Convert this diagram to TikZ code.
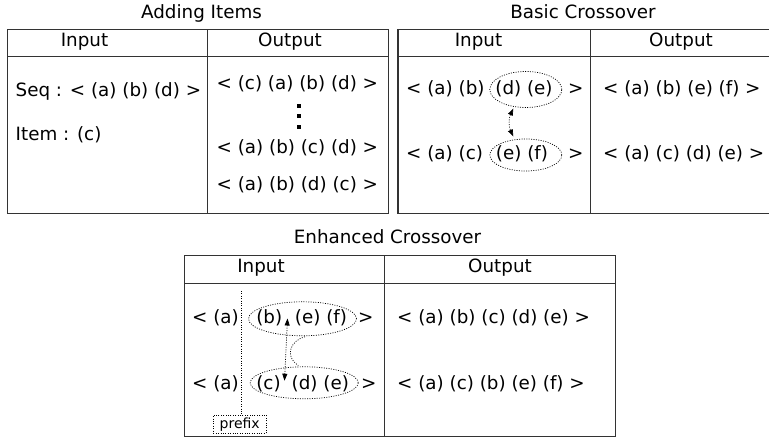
\documentclass[tikz,border=0pt]{standalone}
\usepackage{fontspec}
\setmainfont{DejaVu Sans}
\usetikzlibrary{arrows.meta,shapes.geometric}
\begin{document}
\begin{tikzpicture}[x=1pt,y=-1pt,
  frame/.style={draw=black!80,line width=1.1pt},
  txt/.style={inner sep=0pt,anchor=base west,font=\fontsize{18.3}{21}\selectfont},
  ctxt/.style={inner sep=0pt,anchor=base,font=\fontsize{18.3}{21}\selectfont},
  ell/.style={ellipse,draw,inner sep=0pt,line width=0.7pt,dash pattern=on 1pt off 1.4pt},
  dotline/.style={line width=0.7pt,dash pattern=on 1pt off 1.4pt},
  tip/.style={{Triangle[length=7pt,width=5pt]}-{Triangle[length=7pt,width=5pt]}},
  dotsq/.style={fill=black,inner sep=0pt,minimum size=4pt,rectangle}
]
\useasboundingbox (0,0) rectangle (769,441);

% ---------- Table 1: Adding Items ----------
\node[ctxt] (t1) at (201.5,19) {Adding Items};
\draw[frame] (7.5,29.3) rectangle (388.7,213.3);
\draw[frame] (7.5,56.7) -- (388.7,56.7);
\draw[frame] (207.7,29.3) -- (207.7,213.3);
\node[ctxt] (t1in) at (84.5,46.5) {Input};
\node[ctxt] (t1out) at (290,46.5) {Output};
\node[txt] (seq) at (15.5,96.5) {Seq : < (a) (b) (d) >};
\node[txt] (item) at (15.5,140.8) {Item : (c)};
\node[txt] (o1) at (216.5,90) {< (c) (a) (b) (d) >};
\node[dotsq] (d1) at (299,106) {};
\node[dotsq] (d2) at (299,116.5) {};
\node[dotsq] (d3) at (299,127) {};
\node[txt] (o2) at (216.5,153.5) {< (a) (b) (c) (d) >};
\node[txt] (o3) at (216.5,190) {< (a) (b) (d) (c) >};

% ---------- Table 2: Basic Crossover ----------
\node[ctxt] (t2) at (583,19) {Basic Crossover};
\draw[frame] (769,29.3) -| (398,213.3) -- (769,213.3);
\draw[frame] (398,56.7) -- (769,56.7);
\draw[frame] (590.7,29.3) -- (590.7,213.3);
\node[ctxt] (t2in) at (478.5,46.5) {Input};
\node[ctxt] (t2out) at (681,46.5) {Output};
\node[txt] (b1a) at (406,94.5) {< (a) (b)};
\node[ell,minimum width=72pt,minimum height=36pt] (b1e) at (525.8,89.5) {};
\node[ctxt] (b1b) at (524,94.5) {(d) (e)};
\node[txt] (b1c) at (568,94.5) {>};
\node[txt] (b2a) at (406,159.5) {< (a) (c)};
\node[ell,minimum width=72pt,minimum height=32pt] (b2e) at (525.8,155) {};
\node[ctxt] (b2b) at (522,159.5) {(e) (f)};
\node[txt] (b2c) at (568,159.5) {>};
\coordinate (ba1) at (513.3,108.5);
\coordinate (ba2) at (513.3,136.5);
\draw[dotline,tip] (ba1) to[bend right=25] (ba2);
\node[txt] (bo1) at (603,94.5) {< (a) (b) (e) (f) >};
\node[txt] (bo2) at (603,159.5) {< (a) (c) (d) (e) >};

% ---------- Table 3: Enhanced Crossover ----------
\node[ctxt] (t3) at (387.5,243.3) {Enhanced Crossover};
\draw[frame] (184.7,255.3) rectangle (615.7,436.5);
\draw[frame] (184.7,283.3) -- (615.7,283.3);
\draw[frame] (384.7,255.3) -- (384.7,436.5);
\node[ctxt] (t3in) at (261,272.4) {Input};
\node[ctxt] (t3out) at (500,272.4) {Output};
\node[txt] (e1a) at (192,323.5) {< (a)};
\node[ell,minimum width=108pt,minimum height=34pt] (e1e) at (302.5,318.8) {};
\node[ctxt] (e1b) at (269.3,323.5) {(b)};
\node[ctxt] (e1c) at (321,323.5) {(e) (f)};
\node[txt] (e1d) at (358,323.5) {>};
\node[txt] (e2a) at (192,389) {< (a)};
\node[ell,minimum width=108pt,minimum height=32pt] (e2e) at (304.2,382.8) {};
\node[ctxt] (e2b) at (268.5,389) {(c)};
\node[ctxt] (e2c) at (320.3,389) {(d) (e)};
\node[txt] (e2d) at (361,389) {>};
\node[draw,dotline,inner sep=0pt,minimum width=52.7pt,minimum height=18.3pt,font=\fontsize{14}{16}\selectfont] (pre) at (239.7,424.2) {prefix};
\coordinate (vtop) at (241.7,291);
\draw[dotline] (vtop) -- (vtop |- pre.north);
\coordinate (ea1) at (287.5,318.5);
\coordinate (ea2) at (284.5,380.7);
\draw[dotline,tip] (ea1) -- (ea2);
\coordinate (s1) at (305,336.7);
\coordinate (s2) at (298.3,365.5);
\draw[dotline] (s1) .. controls (292,340) and (283,355) .. (s2);
\node[txt] (eo1) at (397,323.5) {< (a) (b) (c) (d) (e) >};
\node[txt] (eo2) at (397,389) {< (a) (c) (b) (e) (f) >};
\end{tikzpicture}
\end{document}
